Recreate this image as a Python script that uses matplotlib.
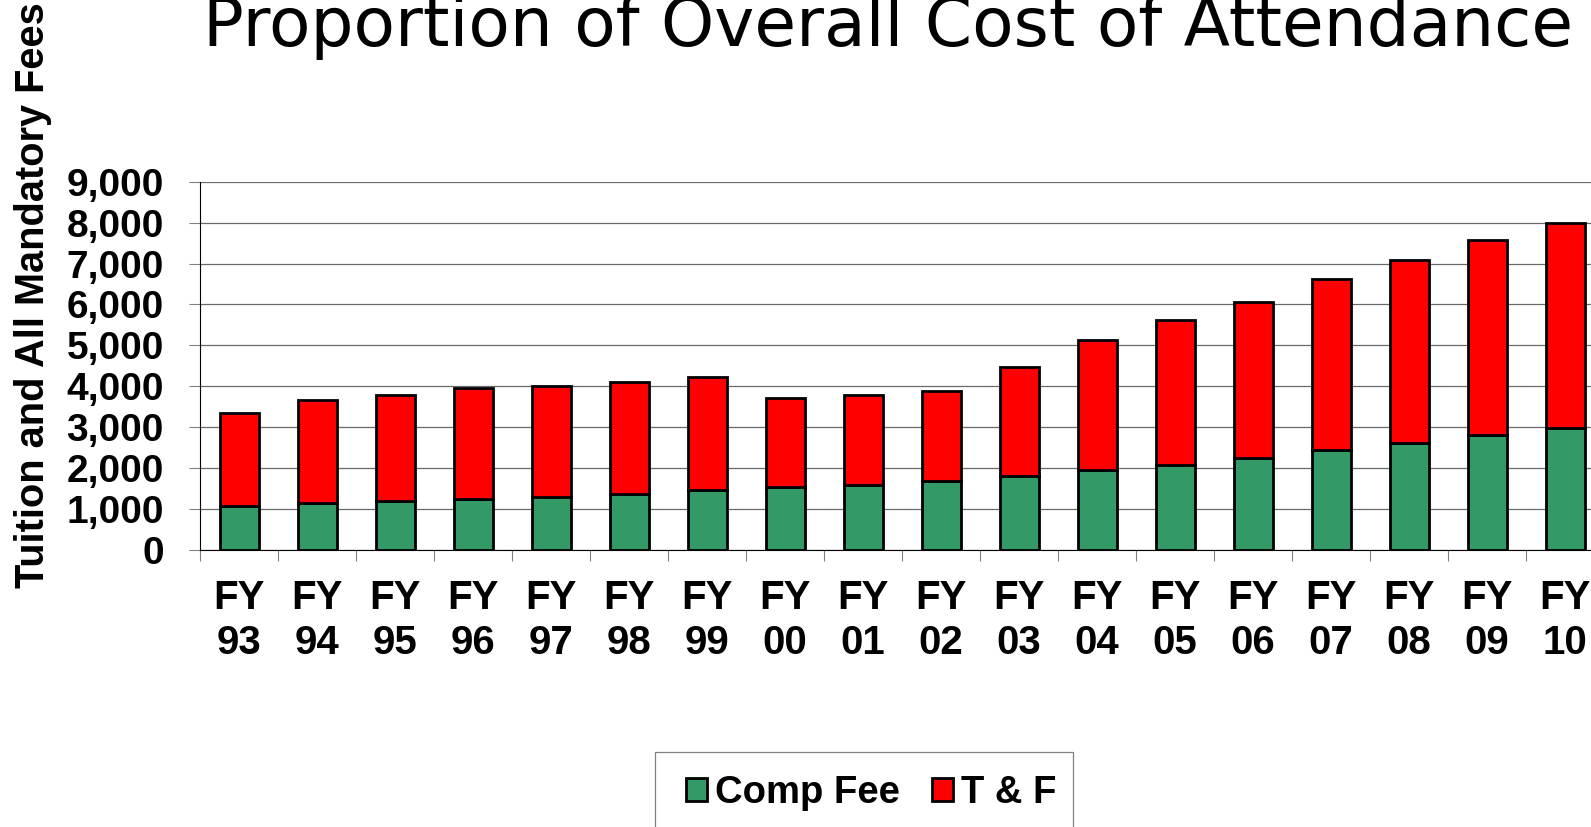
import matplotlib
matplotlib.use('Agg')
import matplotlib.pyplot as plt
from matplotlib.patches import Rectangle
import numpy as np

# data
years = ['93', '94', '95', '96', '97', '98', '99', '00', '01',
         '02', '03', '04', '05', '06', '07', '08', '09', '10']
comp_fee = [1075, 1140, 1200, 1240, 1285, 1375, 1465, 1530, 1590,
            1695, 1810, 1955, 2085, 2250, 2435, 2615, 2810, 2980]
totals = [3360, 3665, 3790, 3950, 4005, 4105, 4220, 3720, 3790,
          3885, 4470, 5130, 5610, 6060, 6630, 7075, 7580, 7980]
t_and_f = [t - c for t, c in zip(totals, comp_fee)]
y_ticks = [0, 1000, 2000, 3000, 4000, 5000, 6000, 7000, 8000, 9000]

W, H = 1591, 827
fig = plt.figure(figsize=(W / 100, H / 100), dpi=100)
plt.rcParams['font.family'] = ['Liberation Sans', 'DejaVu Sans']
plt.rcParams['font.weight'] = 'bold'

# axes runs past the right edge, like the cropped slide
ax = fig.add_axes([200 / W, (H - 550) / H, 1404 / W, (550 - 181.7) / H])

x = np.arange(len(years))
ax.bar(x, comp_fee, width=0.5, color='#339966', edgecolor='black',
       linewidth=2, label='Comp Fee', zorder=3)
ax.bar(x, t_and_f, width=0.5, bottom=comp_fee, color='#ff0000',
       edgecolor='black', linewidth=2, label='T & F', zorder=3)

ax.set_xlim(-0.5, len(years) - 0.5)
ax.set_ylim(0, 9000)
ax.set_yticks(y_ticks)
ax.set_yticklabels(['{:,}'.format(v) for v in y_ticks], fontsize=28,
                   fontweight='bold')
ax.yaxis.grid(True, color='#6a6a6a', linewidth=0.9, zorder=0)
ax.tick_params(axis='y', length=8, width=0.8, color='#808080', pad=18)

# category ticks sit between bars, labels sit under the bars
ax.set_xticks(np.arange(len(years) + 1) - 0.5)
ax.set_xticklabels([])
ax.set_xticks(x, minor=True)
ax.set_xticklabels(['FY\n' + y for y in years], minor=True, fontsize=29,
                   fontweight='bold', linespacing=1.22)
ax.tick_params(axis='x', which='major', length=8, width=0.8, color='#808080')
ax.tick_params(axis='x', which='minor', length=0, pad=21)

for s in ['top', 'right']:
    ax.spines[s].set_visible(False)
ax.spines['left'].set_linewidth(0.8)
ax.spines['bottom'].set_linewidth(0.8)

title = fig.text(203 / W, 1 - 46 / H, 'Proportion of Overall Cost of Attendance',
                 fontsize=44, fontweight='normal',
                 family=['DejaVu Sans'], ha='left', va='baseline')
# size the title so it runs off the right edge like the slide
fig.canvas.draw()
tw = title.get_window_extent().width
title.set_fontsize(44 * 1370 / tw)

fig.text(33 / W, 1 - 588 / H, 'Tuition and All Mandatory Fees',
         rotation=90, fontsize=28.6, fontweight='bold',
         ha='center', va='bottom')

# legend box (cut by the bottom edge)
fig.patches.append(Rectangle((655 / W, -0.05), (1073 - 655) / W,
                             0.05 + (H - 752) / H, transform=fig.transFigure,
                             facecolor='white', edgecolor='#808080',
                             linewidth=0.9, zorder=1))
leg = fig.legend(loc='upper left', bbox_to_anchor=(686 / W, 1 - 775 / H),
                 ncol=2, fontsize=27.5, frameon=False,
                 handlelength=0.55, handleheight=0.55, handletextpad=0.2,
                 columnspacing=0.85, borderpad=0, borderaxespad=0)
leg.set_zorder(2)
for t in leg.get_texts():
    t.set_fontweight('bold')

fig.savefig('out.png', dpi=100)
